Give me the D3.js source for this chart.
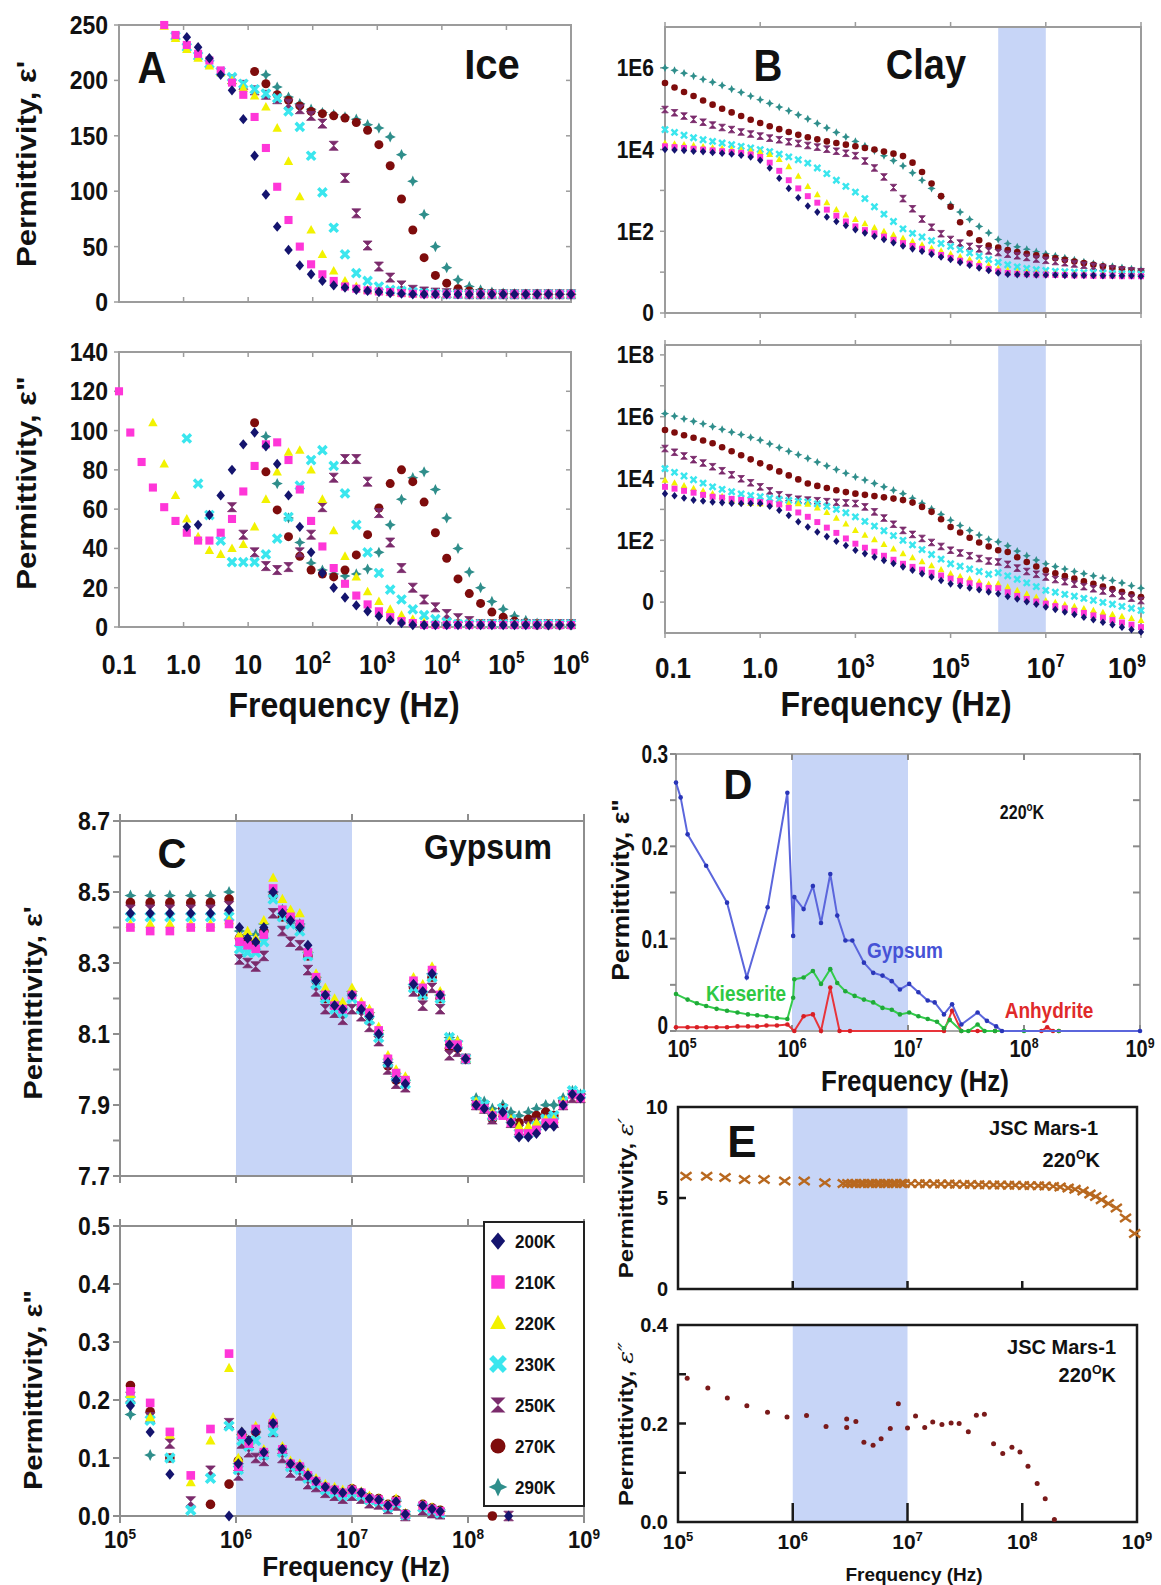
<!DOCTYPE html>
<html>
<head>
<meta charset="utf-8">
<script src="https://cdn.jsdelivr.net/npm/d3@7"></script>
<style>
body { margin: 0; background: #fff; }
svg { display: block; }
text { font-family: "Liberation Sans", Arial, sans-serif; }
</style>
</head>
<body>
<svg id="chart" width="1161" height="1585"></svg>
<script>
var _ = null;

// ---------- shared ----------
var temps = ["200K", "210K", "220K", "230K", "250K", "270K", "290K"];

// ---------- A: Ice (log10 of frequency in Hz) ----------
var iceFreqLog = [-1.0, -0.825, -0.65, -0.475, -0.3, -0.125, 0.05, 0.225, 0.4, 0.575, 0.75, 0.925, 1.1, 1.275, 1.45, 1.625, 1.8, 1.975, 2.15, 2.325, 2.5, 2.675, 2.85, 3.025, 3.2, 3.375, 3.55, 3.725, 3.9, 4.075, 4.25, 4.425, 4.6, 4.775, 4.95, 5.125, 5.3, 5.475, 5.65, 5.825, 6.0];
var iceTickValues = [0.1, 1, 10, 1e2, 1e3, 1e4, 1e5, 1e6];
var iceTickLabels = ["0.1", "1.0", "10", "10^{2}", "10^{3}", "10^{4}", "10^{5}", "10^{6}"];
var iceRealTicks = [0, 50, 100, 150, 200, 250];
var iceLossTicks = [0, 20, 40, 60, 80, 100, 120, 140];

var iceReal200 = [_,_,_,_,_,_,239,230,220,205,191,165,132,97,68,47,33,25,19,15,13,11,10,9,8,7.5,7,7,7,7,7,7,7,7,7,7,7,7,7,7,7];
var iceReal210 = [_,_,_,_,250,241,232,224,218,209,198,187,167,139,104,74,50,34,25,19,14,12,10.5,9.5,9,8,7.5,7,7,7,7,7,7,7,7,7,7,7,7,7,7];
var iceReal220 = [_,_,_,_,249,238,228,220,213,207,200,193,186,176,157,127,95,65,43,28,19,14,11,10,9,8,7.5,7,7,7,7,7,7,7,7,7,7,7,7,7,7];
var iceReal230 = [_,_,_,_,_,240,230,222,215,208,203,197,192,188,184,172,158,132,99,67,43,26,19,14,11,10,9,8,7.5,7,7,7,7,7,7,7,7,7,7,7,7];
var iceReal250 = [_,_,_,_,_,_,_,_,_,_,201,196,191,187,183,179,174,168,161,141,112,80,51,32,22,15,11,9.5,8.5,8,7.5,7,7,7,7,7,7,7,7,7,7];
var iceReal270 = [_,_,_,_,_,_,_,_,_,_,_,_,208,197,187,182,177,172,170,168,166,162,155,142,123,93,65,40,24,17,12,10,8.5,8,7.5,7,7,7,7,7,7];
var iceReal290 = [_,_,_,_,_,_,_,_,_,_,_,_,_,205,194,185,179,174,171,169,167,165,160,157,149,133,109,79,50,31,20,14,11,9,8,7.5,7,7,7,7,7];

var iceLoss200 = [_,_,_,_,_,_,51,52,57,67,80,93,99,92,83,67,51,38,27.5,20,15,11,8,5.5,3.5,2,1,1,1,1,1,1,1,1,1,1,1,1,1,1,1];
var iceLoss210 = [120,99,84,71,61,54,48,44,44,48,55,69,82,93,94,85,70,54,41,30,22,16,11.5,8,5,3,2,1,1,1,1,1,1,1,1,1,1,1,1,1,1];
var iceLoss220 = [_,_,_,104,83,67,55,46,39,37,40,42,51,65,79,89,90,80,65,49,36,25.5,18,13,9,6,4,2.5,1.5,1.5,1.5,1.5,1.5,1.5,1.5,1.5,1.5,1.5,1.5,1.5,1.5];
var iceLoss230 = [_,_,_,_,_,_,96,73,57,44,33,33,33,37,45,56,72,85,90,82,68,52,38,27.5,19,14,9,6,4,2.5,1.5,1.5,1.5,1.5,1.5,1.5,1.5,1.5,1.5,1.5,1.5];
var iceLoss250 = [_,_,_,_,_,_,_,_,_,_,61,47,38,31,29,30.5,38,47,61,76,85.5,85.5,74,58,43,30,20,14,10,6.6,4.5,3,1.5,1.5,1.5,1.5,1.5,1.5,1.5,1.5,1.5];
var iceLoss270 = [_,_,_,_,_,_,_,_,_,_,_,_,104,79,59.6,46,36,29,27,25.5,29,36.7,47,60.6,73,80,74,63.6,48,35,24.5,17,12,7.6,5,3,2,1,1,1,1];
var iceLoss290 = [_,_,_,_,_,_,_,_,_,_,_,_,_,97,73,55.5,43,32.6,29,27,26,27,29.5,38,52,65,76,79,70,55.5,40,28,20,13,9,5.6,3.4,2,1,1,1];

// ---------- B: Clay (log10 frequency, log10 permittivity) ----------
var clayFreqLog = [-1.0, -0.8, -0.6, -0.4, -0.2, 0.0, 0.2, 0.4, 0.6, 0.8, 1.0, 1.2, 1.4, 1.6, 1.8, 2.0, 2.2, 2.4, 2.6, 2.8, 3.0, 3.2, 3.4, 3.6, 3.8, 4.0, 4.2, 4.4, 4.6, 4.8, 5.0, 5.2, 5.4, 5.6, 5.8, 6.0, 6.2, 6.4, 6.6, 6.8, 7.0, 7.2, 7.4, 7.6, 7.8, 8.0, 8.2, 8.4, 8.6, 8.8, 9.0];
var clayTickValues = [0.1, 10, 1e3, 1e5, 1e7, 1e9];
var clayTickLabels = ["0.1", "1.0", "10^{3}", "10^{5}", "10^{7}", "10^{9}"];
var clayRealTicks = [1, 1e2, 1e4, 1e6];
var clayRealTickLabels = ["0", "1E2", "1E4", "1E6"];
var clayLossTicks = [1, 1e2, 1e4, 1e6, 1e8];
var clayLossTickLabels = ["0", "1E2", "1E4", "1E6", "1E8"];

var clayRealLog200 = [4.00,3.99,3.98,3.96,3.95,3.93,3.91,3.89,3.86,3.82,3.74,3.55,3.30,3.05,2.82,2.62,2.47,2.35,2.24,2.14,2.04,1.96,1.88,1.80,1.72,1.64,1.57,1.51,1.44,1.37,1.31,1.24,1.17,1.10,1.04,0.98,0.95,0.94,0.94,0.93,0.93,0.93,0.92,0.92,0.92,0.92,0.91,0.91,0.91,0.91,0.90];
var clayRealLog210 = [4.08,4.06,4.04,4.02,4.00,3.98,3.96,3.94,3.92,3.88,3.82,3.68,3.48,3.25,3.05,2.86,2.70,2.53,2.38,2.24,2.12,2.03,1.95,1.87,1.79,1.71,1.64,1.57,1.49,1.42,1.35,1.28,1.21,1.15,1.08,1.02,0.98,0.96,0.95,0.94,0.94,0.93,0.93,0.92,0.92,0.91,0.91,0.91,0.90,0.90,0.90];
var clayRealLog220 = [4.16,4.14,4.12,4.10,4.07,4.05,4.03,4.01,3.99,3.97,3.94,3.88,3.76,3.58,3.35,3.10,2.90,2.70,2.53,2.40,2.29,2.19,2.09,2.00,1.91,1.83,1.75,1.67,1.59,1.52,1.45,1.38,1.31,1.24,1.17,1.10,1.05,1.02,1.00,0.98,0.97,0.96,0.96,0.95,0.95,0.94,0.94,0.93,0.93,0.92,0.92];
var clayRealLog230 = [4.49,4.42,4.35,4.29,4.24,4.20,4.16,4.12,4.08,4.04,4.00,3.95,3.89,3.82,3.75,3.67,3.55,3.41,3.25,3.10,2.96,2.80,2.60,2.42,2.24,2.06,1.95,1.86,1.77,1.70,1.63,1.55,1.47,1.39,1.31,1.24,1.18,1.13,1.09,1.06,1.04,1.02,1.01,1.00,0.99,0.99,0.98,0.97,0.96,0.96,0.95];
var clayRealLog250 = [4.98,4.90,4.82,4.74,4.67,4.60,4.54,4.49,4.43,4.38,4.33,4.28,4.24,4.19,4.15,4.10,4.06,4.01,3.96,3.91,3.85,3.72,3.55,3.33,3.07,2.80,2.55,2.30,2.10,1.94,1.80,1.71,1.63,1.57,1.52,1.48,1.44,1.40,1.36,1.32,1.29,1.26,1.23,1.20,1.17,1.14,1.11,1.08,1.05,1.03,1.01];
var clayRealLog270 = [5.63,5.52,5.41,5.31,5.20,5.10,5.00,4.91,4.82,4.73,4.65,4.57,4.50,4.43,4.36,4.30,4.25,4.20,4.16,4.12,4.08,4.04,4.00,3.95,3.90,3.84,3.68,3.45,3.17,2.86,2.60,2.22,1.95,1.78,1.65,1.60,1.54,1.49,1.45,1.41,1.38,1.34,1.30,1.26,1.22,1.18,1.14,1.10,1.07,1.04,1.02];
var clayRealLog290 = [6.00,5.94,5.87,5.80,5.72,5.65,5.57,5.48,5.40,5.31,5.22,5.13,5.04,4.95,4.85,4.75,4.64,4.53,4.42,4.31,4.20,4.09,3.97,3.85,3.73,3.60,3.43,3.25,3.05,2.85,2.65,2.47,2.29,2.12,1.96,1.80,1.70,1.62,1.56,1.50,1.45,1.40,1.35,1.30,1.25,1.21,1.17,1.14,1.11,1.08,1.05];

var clayLossLog200 = [3.51,3.44,3.37,3.30,3.27,3.24,3.22,3.20,3.19,3.19,3.19,3.10,2.97,2.80,2.60,2.43,2.27,2.12,1.97,1.83,1.68,1.57,1.46,1.35,1.25,1.14,1.03,0.92,0.81,0.70,0.59,0.53,0.46,0.40,0.33,0.27,0.18,0.10,0.01,-0.07,-0.16,-0.24,-0.32,-0.40,-0.49,-0.57,-0.65,-0.73,-0.81,-0.89,-0.97];
var clayLossLog210 = [3.73,3.67,3.60,3.54,3.47,3.41,3.38,3.34,3.31,3.27,3.24,3.20,3.16,3.05,2.90,2.76,2.59,2.41,2.24,2.06,1.89,1.76,1.63,1.50,1.37,1.24,1.14,1.05,0.95,0.86,0.76,0.68,0.61,0.53,0.46,0.45,0.32,0.20,0.10,0.02,-0.05,-0.13,-0.20,-0.28,-0.35,-0.43,-0.50,-0.58,-0.66,-0.73,-0.81];
var clayLossLog220 = [3.95,3.86,3.77,3.68,3.60,3.51,3.42,3.30,3.23,3.20,3.19,3.19,3.19,3.19,3.19,3.17,3.05,2.90,2.72,2.53,2.32,2.17,2.02,1.87,1.72,1.57,1.44,1.31,1.18,1.05,0.92,0.83,0.75,0.66,0.58,0.60,0.49,0.38,0.27,0.16,0.05,-0.01,-0.08,-0.14,-0.21,-0.27,-0.33,-0.40,-0.46,-0.53,-0.59];
var clayLossLog230 = [4.32,4.20,4.08,3.96,3.85,3.73,3.65,3.57,3.50,3.45,3.41,3.36,3.32,3.29,3.26,3.24,3.18,3.10,3.00,2.89,2.76,2.61,2.46,2.31,2.15,2.00,1.85,1.70,1.54,1.39,1.24,1.16,1.07,0.99,0.90,0.95,0.85,0.74,0.62,0.50,0.38,0.32,0.25,0.19,0.12,0.06,-0.01,-0.07,-0.14,-0.20,-0.27];
var clayLossLog250 = [4.97,4.85,4.73,4.61,4.50,4.38,4.25,4.12,3.99,3.86,3.73,3.60,3.47,3.38,3.33,3.30,3.28,3.25,3.23,3.21,3.19,3.08,2.92,2.72,2.52,2.32,2.19,2.06,1.93,1.80,1.68,1.59,1.50,1.41,1.33,1.30,1.22,1.10,0.99,0.90,0.81,0.73,0.66,0.58,0.50,0.43,0.36,0.28,0.20,0.13,0.05];
var clayLossLog270 = [5.57,5.49,5.40,5.32,5.23,5.14,5.01,4.88,4.75,4.62,4.49,4.36,4.23,4.10,3.97,3.84,3.76,3.69,3.62,3.56,3.51,3.47,3.43,3.39,3.35,3.30,3.22,3.08,2.92,2.68,2.43,2.25,2.08,1.93,1.80,1.68,1.62,1.45,1.30,1.15,1.03,0.93,0.84,0.76,0.67,0.59,0.50,0.42,0.33,0.25,0.16];
var clayLossLog290 = [6.10,6.02,5.93,5.85,5.77,5.68,5.59,5.50,5.42,5.33,5.24,5.12,5.00,4.88,4.77,4.65,4.53,4.41,4.29,4.17,4.05,3.95,3.84,3.73,3.62,3.51,3.36,3.20,3.02,2.84,2.65,2.48,2.32,2.17,2.03,1.95,1.82,1.65,1.50,1.36,1.24,1.15,1.07,0.99,0.92,0.85,0.78,0.70,0.62,0.53,0.45];

// ---------- C: Gypsum ----------
var gypTickValues = [1e5, 1e6, 1e7, 1e8, 1e9];
var gypTickLabels = ["10^{5}", "10^{6}", "10^{7}", "10^{8}", "10^{9}"];
var gypRealTicks = [7.7, 7.9, 8.1, 8.3, 8.5, 8.7];
var gypRealMinor = [7.8, 8.0, 8.2, 8.4, 8.6];
var gypLossTicks = [0.0, 0.1, 0.2, 0.3, 0.4, 0.5];

var gypRealFreqLog = [5.09, 5.26, 5.43, 5.61, 5.78, 5.94, 6.03, 6.10, 6.17, 6.24, 6.32, 6.40, 6.47, 6.55, 6.62, 6.69, 6.77, 6.85, 6.92, 7.00, 7.08, 7.15, 7.23, 7.31, 7.38, 7.46, 7.53, 7.61, 7.69, 7.76, 7.84, 7.91, 7.98, 8.07, 8.14, 8.21, 8.30, 8.37, 8.44, 8.52, 8.59, 8.67, 8.74, 8.82, 8.90, 8.97];
var gypReal200 = [8.44,8.44,8.44,8.44,8.44,8.45,8.40,8.37,8.36,8.40,8.50,8.44,8.42,8.40,8.35,8.25,8.21,8.18,8.17,8.21,8.17,8.15,8.10,8.02,7.97,7.96,8.24,8.22,8.27,8.21,8.07,8.06,8.03,7.90,7.89,7.87,7.88,7.85,7.81,7.81,7.82,7.84,7.84,7.90,7.93,7.92];
var gypReal210 = [8.40,8.39,8.39,8.40,8.40,8.41,8.36,8.35,8.34,8.38,8.51,8.45,8.43,8.41,8.33,8.26,8.21,8.18,8.17,8.21,8.18,8.16,8.11,8.03,7.99,7.97,8.25,8.23,8.28,8.21,8.07,8.07,8.03,7.90,7.89,7.87,7.87,7.85,7.82,7.82,7.83,7.85,7.85,7.90,7.93,7.92];
var gypReal220 = [8.41,8.41,8.41,8.41,8.41,8.42,8.38,8.39,8.37,8.42,8.54,8.48,8.45,8.44,8.34,8.27,8.23,8.20,8.19,8.23,8.19,8.17,8.12,8.04,8.00,7.98,8.26,8.24,8.29,8.22,8.08,8.08,8.03,7.91,7.89,7.88,7.88,7.86,7.84,7.84,7.85,7.86,7.86,7.91,7.93,7.92];
var gypReal230 = [8.43,8.43,8.43,8.43,8.43,8.43,8.34,8.33,8.33,8.36,8.48,8.43,8.41,8.39,8.32,8.24,8.20,8.17,8.16,8.20,8.17,8.14,8.09,8.02,7.98,7.96,8.23,8.21,8.26,8.20,8.09,8.07,8.03,7.91,7.90,7.87,7.89,7.86,7.82,7.82,7.84,7.86,7.87,7.91,7.94,7.93];
var gypReal250 = [8.45,8.45,8.45,8.45,8.45,8.46,8.31,8.30,8.29,8.32,8.44,8.39,8.36,8.35,8.28,8.22,8.17,8.16,8.14,8.17,8.15,8.12,8.08,8.00,7.96,7.95,8.22,8.18,8.23,8.17,8.04,8.05,8.03,7.90,7.89,7.86,7.88,7.85,7.83,7.84,7.85,7.86,7.85,7.90,7.92,7.92];
var gypReal270 = [8.47,8.47,8.47,8.47,8.47,8.48,8.37,8.36,8.35,8.39,8.49,8.43,8.42,8.40,8.32,8.25,8.20,8.18,8.17,8.21,8.17,8.15,8.10,8.01,7.97,7.97,8.23,8.21,8.26,8.20,8.06,8.06,8.03,7.90,7.89,7.86,7.89,7.86,7.85,7.86,7.87,7.88,7.87,7.91,7.93,7.92];
var gypReal290 = [8.49,8.49,8.49,8.49,8.49,8.50,8.39,8.38,8.38,8.41,8.50,8.45,8.43,8.41,8.33,8.26,8.22,8.19,8.18,8.22,8.18,8.16,8.11,8.02,7.98,7.97,8.24,8.22,8.27,8.21,8.09,8.08,8.03,7.92,7.91,7.89,7.90,7.88,7.87,7.88,7.89,7.90,7.90,7.92,7.94,7.93];

var gypLossFreqLog = [5.09, 5.26, 5.43, 5.61, 5.78, 5.94, 6.02, 6.05, 6.11, 6.17, 6.24, 6.32, 6.40, 6.47, 6.55, 6.62, 6.69, 6.77, 6.85, 6.92, 7.00, 7.08, 7.15, 7.23, 7.31, 7.38, 7.46, 7.61, 7.69, 7.76, 8.21, 8.35];
var gypLoss200 = [0.19,0.145,0.072,_,_,0.0,0.09,0.145,0.13,0.145,0.11,0.16,0.115,0.09,0.085,0.07,0.06,0.05,0.045,0.04,0.045,0.04,0.03,0.028,0.018,0.025,0.003,0.018,0.012,0.008,_,0.0];
var gypLoss210 = [0.215,0.195,0.145,0.07,0.15,0.28,0.085,0.14,0.125,0.15,0.11,0.16,0.115,0.09,0.085,0.07,0.06,0.05,0.045,0.04,0.045,0.04,0.03,0.028,0.018,0.025,0.003,0.018,0.012,0.008,_,_];
var gypLoss220 = [0.21,0.17,0.14,0.058,0.13,0.255,0.10,0.145,0.13,0.155,0.115,0.17,0.12,0.095,0.09,0.075,0.065,0.055,0.05,0.045,0.048,0.042,0.035,0.03,0.02,0.03,0.005,0.02,0.015,0.01,_,_];
var gypLoss230 = [0.20,0.165,0.10,0.01,0.065,0.155,0.08,0.13,0.12,0.13,0.105,0.145,0.11,0.085,0.08,0.065,0.055,0.045,0.04,0.035,0.04,0.035,0.028,0.025,0.015,0.022,0.002,0.015,0.01,0.005,_,_];
var gypLoss250 = [0.205,0.17,0.125,0.025,0.078,0.16,0.07,0.125,0.11,0.10,0.095,0.145,0.10,0.075,0.07,0.055,0.05,0.04,0.035,0.03,0.035,0.03,0.022,0.02,0.012,0.018,0.0,0.01,0.005,0.003,_,0.0];
var gypLoss270 = [0.225,0.18,0.10,_,0.02,0.055,0.095,0.14,0.13,0.145,0.11,0.16,0.115,0.09,0.085,0.07,0.06,0.05,0.045,0.04,0.047,0.04,0.032,0.03,0.02,0.028,0.004,0.02,0.014,0.01,0.0,_];
var gypLoss290 = [0.175,0.105,_,_,_,_,0.09,0.14,0.125,0.145,0.11,0.155,0.115,0.09,0.085,0.07,0.06,0.05,0.045,0.04,0.045,0.04,0.03,0.028,0.018,0.025,0.003,0.018,0.012,0.008,_,_];

// ---------- D: loss at 220 K ----------
var dLossTicks = [0, 0.1, 0.2, 0.3];
var dLossMinor = [0.05, 0.15, 0.25];
var gypsumFreqLog = [5.00, 5.04, 5.10, 5.26, 5.44, 5.61, 5.79, 5.96, 6.01, 6.02, 6.10, 6.18, 6.25, 6.33, 6.39, 6.46, 6.52, 6.62, 6.70, 6.78, 6.86, 6.93, 7.01, 7.09, 7.17, 7.23, 7.31, 7.38, 7.46, 7.60, 7.68, 7.76, 7.81, 9.00];
var gypsumLoss = [0.269, 0.253, 0.213, 0.179, 0.139, 0.058, 0.134, 0.258, 0.103, 0.145, 0.132, 0.157, 0.117, 0.170, 0.125, 0.098, 0.098, 0.074, 0.063, 0.060, 0.054, 0.045, 0.051, 0.042, 0.033, 0.031, 0.018, 0.029, 0.007, 0.020, 0.011, 0.005, 0.0, 0.0];
var kieseriteFreqLog = [5.00, 5.10, 5.18, 5.26, 5.35, 5.44, 5.53, 5.62, 5.70, 5.78, 5.87, 5.96, 6.01, 6.02, 6.10, 6.18, 6.25, 6.33, 6.39, 6.46, 6.54, 6.62, 6.70, 6.78, 6.86, 6.93, 7.01, 7.09, 7.17, 7.25, 7.31, 7.36, 7.46, 7.52, 7.60, 7.66, 7.75, 8.00, 8.30];
var kieseriteLoss = [0.040, 0.034, 0.030, 0.027, 0.024, 0.022, 0.020, 0.018, 0.017, 0.016, 0.014, 0.013, 0.036, 0.056, 0.058, 0.065, 0.051, 0.067, 0.052, 0.043, 0.038, 0.034, 0.031, 0.025, 0.023, 0.018, 0.020, 0.016, 0.013, 0.010, 0.003, 0.012, 0.0, 0.0, 0.007, 0.0, 0.0, 0.0, 0.0];
var anhydriteFreqLog = [5.00, 5.10, 5.18, 5.26, 5.35, 5.44, 5.53, 5.62, 5.70, 5.78, 5.87, 5.96, 6.02, 6.10, 6.18, 6.25, 6.33, 6.41, 6.50, 7.31, 7.38, 7.46, 7.60, 7.75, 8.15, 8.20, 8.25, 8.30];
var anhydriteLoss = [0.004, 0.004, 0.004, 0.004, 0.004, 0.004, 0.005, 0.005, 0.005, 0.006, 0.006, 0.007, 0.0, 0.016, 0.018, 0.0, 0.047, 0.0, 0.0, 0.0, 0.022, 0.0, 0.0, 0.0, 0.0, 0.004, 0.0, 0.0];

// ---------- E: JSC Mars-1 at 220 K ----------
var marsRealTicks = [0, 5, 10];
var marsLossTicks = [0.0, 0.2, 0.4];
var marsLossMinor = [0.1, 0.3];
var marsRealFreqLog = [5.07, 5.25, 5.41, 5.58, 5.75, 5.93, 6.10, 6.28, 6.44, 6.48, 6.52, 6.55, 6.59, 6.62, 6.66, 6.69, 6.73, 6.76, 6.80, 6.83, 6.87, 6.90, 6.94, 6.97, 7.03, 7.10, 7.16, 7.23, 7.29, 7.36, 7.42, 7.49, 7.55, 7.62, 7.68, 7.75, 7.81, 7.88, 7.94, 8.01, 8.07, 8.14, 8.20, 8.27, 8.33, 8.40, 8.46, 8.53, 8.59, 8.64, 8.69, 8.75, 8.82, 8.90, 8.98];
var marsReal = [6.20, 6.20, 6.13, 6.02, 6.02, 5.93, 5.93, 5.84, 5.80, 5.80, 5.80, 5.80, 5.80, 5.80, 5.80, 5.80, 5.80, 5.80, 5.80, 5.80, 5.80, 5.80, 5.80, 5.80, 5.79, 5.79, 5.78, 5.78, 5.77, 5.77, 5.76, 5.75, 5.74, 5.73, 5.72, 5.71, 5.71, 5.70, 5.70, 5.69, 5.68, 5.67, 5.66, 5.64, 5.60, 5.55, 5.48, 5.38, 5.22, 5.08, 4.90, 4.70, 4.45, 3.90, 3.05];
var marsLossFreqLog = [5.08, 5.26, 5.43, 5.60, 5.78, 5.95, 6.12, 6.29, 6.47, 6.47, 6.55, 6.62, 6.70, 6.77, 6.85, 6.92, 7.00, 7.07, 7.15, 7.22, 7.30, 7.38, 7.45, 7.53, 7.60, 7.67, 7.75, 7.83, 7.91, 7.98, 8.05, 8.13, 8.20, 8.28];
var marsLoss = [0.292, 0.272, 0.252, 0.236, 0.223, 0.213, 0.216, 0.194, 0.209, 0.192, 0.204, 0.162, 0.156, 0.169, 0.190, 0.240, 0.191, 0.215, 0.192, 0.203, 0.198, 0.201, 0.200, 0.183, 0.217, 0.219, 0.159, 0.139, 0.152, 0.142, 0.113, 0.078, 0.047, 0.005];

// ---------- drawing ----------
var svg = d3.select("#chart");
var SHADE = "#c7d5f7";
var GRAY = "#9c9c9c";
var tempColors = ["#14146e", "#ff36d8", "#f2f200", "#3ae6ee", "#7b2b6c", "#7e0c0c", "#2f8e8b"];
var tempKinds = [0, 1, 2, 3, 4, 5, 6];

function label(str, x, y, size, o) {
    o = o || {};
    var tr = "translate(" + x + "," + y + ")";
    if (o.sy) tr += " scale(1," + o.sy + ")";
    if (o.rot) tr += " rotate(" + o.rot + ")";
    var t = svg.append("text")
        .attr("transform", tr)
        .attr("text-anchor", o.anchor || "middle")
        .attr("dy", "0.35em")
        .attr("font-size", size)
        .attr("font-weight", o.weight || "bold")
        .attr("fill", o.color || "#111");
    var parts = str.split(/(\^\{[^}]*\}|_\{[^}]*\})/);
    var raised = false;
    parts.forEach(function(p){
        if (!p) return;
        var s;
        if (p.indexOf("^{") === 0) {
            t.append("tspan").attr("font-size", size * 0.62).attr("dy", -size * 0.4).text(p.slice(2, -1));
            raised = true;
            return;
        }
        if (p.indexOf("_{") === 0) {
            s = t.append("tspan").attr("font-style", "italic").attr("font-family", "'DejaVu Serif', serif").attr("font-weight", "normal").text(p.slice(2, -1));
        } else {
            s = t.append("tspan").text(p);
        }
        if (raised) { s.attr("dy", size * 0.4); raised = false; }
    });
    return t;
}

function box(x0, y0, x1, y1, color, w) {
    svg.append("rect")
        .attr("x", x0).attr("y", y0)
        .attr("width", x1 - x0).attr("height", y1 - y0)
        .attr("fill", "none")
        .attr("stroke", color)
        .attr("stroke-width", w);
}

function shade(x0, x1, y0, y1) {
    svg.append("rect")
        .attr("x", x0).attr("y", y0)
        .attr("width", x1 - x0).attr("height", y1 - y0)
        .attr("fill", SHADE);
}

// vertical tick marks along a horizontal edge
function xTicks(scale, vals, y, len, color, w) {
    vals.forEach(function(v){
        svg.append("line")
            .attr("x1", scale(v)).attr("x2", scale(v))
            .attr("y1", y).attr("y2", y + len)
            .attr("stroke", color).attr("stroke-width", w);
    });
}

// horizontal tick marks along a vertical edge
function yTicks(scale, vals, x, len, color, w) {
    vals.forEach(function(v){
        svg.append("line")
            .attr("x1", x).attr("x2", x + len)
            .attr("y1", scale(v)).attr("y2", scale(v))
            .attr("stroke", color).attr("stroke-width", w);
    });
}

function markerPath(kind, r) {
    var a;
    if (kind == 0) return "M0," + (-r * 1.15) + "L" + (r * 0.95) + ",0L0," + (r * 1.15) + "L" + (-r * 0.95) + ",0Z";
    if (kind == 1) { a = r * 0.9; return "M" + (-a) + "," + (-a) + "H" + a + "V" + a + "H" + (-a) + "Z"; }
    if (kind == 2) return "M0," + (-r * 1.1) + "L" + (r * 1.05) + "," + (r * 0.8) + "L" + (-r * 1.05) + "," + (r * 0.8) + "Z";
    if (kind == 3) {
        a = r * 0.38; var b = r * 1.3;
        return "M" + (-a) + "," + (-b) + "H" + a + "V" + (-a) + "H" + b + "V" + a + "H" + a + "V" + b + "H" + (-a) + "V" + a + "H" + (-b) + "V" + (-a) + "H" + (-a) + "Z";
    }
    if (kind == 4) return "M" + (-r) + "," + (-r) + "L" + r + "," + (-r) + "L" + (-r) + "," + r + "L" + r + "," + r + "Z";
    if (kind == 5) return "M" + (-r) + ",0A" + r + "," + r + " 0 1,0 " + r + ",0A" + r + "," + r + " 0 1,0 " + (-r) + ",0Z";
    a = r * 0.4; var s = r * 1.25;
    return "M0," + (-s) + "L" + a + "," + (-a) + "L" + s + ",0L" + a + "," + a + "L0," + s + "L" + (-a) + "," + a + "L" + (-s) + ",0L" + (-a) + "," + (-a) + "Z";
}

function scatter(freqLog, vals, xs, ys, kind, color, r, logY) {
    var pts = [];
    freqLog.forEach(function(f, i){
        if (vals[i] === null || vals[i] === undefined) return;
        pts.push([xs(Math.pow(10, f)), ys(logY ? Math.pow(10, vals[i]) : vals[i])]);
    });
    svg.append("g").selectAll("path").data(pts).join("path")
        .attr("d", markerPath(kind, r))
        .attr("transform", function(d){ return "translate(" + d[0] + "," + d[1] + ")" + (kind == 3 ? " rotate(45)" : ""); })
        .attr("fill", color)
        .attr("stroke", color)
        .attr("stroke-width", kind == 4 ? 0.8 : 0);
}

// ================= Panel A: Ice =================
var xA = d3.scaleLog().domain([0.1, 1e6]).range([119, 571]);
var yA1 = d3.scaleLinear().domain([0, 250]).range([302, 25]);
var yA2 = d3.scaleLinear().domain([0, 140]).range([627, 352]);

var iceReal = [iceReal200, iceReal210, iceReal220, iceReal230, iceReal250, iceReal270, iceReal290];
var iceLoss = [iceLoss200, iceLoss210, iceLoss220, iceLoss230, iceLoss250, iceLoss270, iceLoss290];

[[yA1, iceRealTicks, iceReal], [yA2, iceLossTicks, iceLoss]].forEach(function(p){
    var ys = p[0];
    box(119, ys.range()[1], 571, ys.range()[0], GRAY, 2);
    xTicks(xA, iceTickValues, ys.range()[1], 5, GRAY, 1.5);
    xTicks(xA, iceTickValues, ys.range()[0], -5, GRAY, 1.5);
    yTicks(ys, p[1], 119, -5, GRAY, 1.5);
    yTicks(ys, p[1], 571, -5, GRAY, 1.5);
    p[1].forEach(function(v){ label(String(v), 108, ys(v), 23, {anchor: "end", sy: 1.12}); });
    for (var k = 6; k >= 0; k--) scatter(iceFreqLog, p[2][k], xA, ys, tempKinds[k], tempColors[k], 4.5, false);
});
iceTickValues.forEach(function(v, i){ label(iceTickLabels[i], xA(v), 664, 25, {sy: 1.12}); });
label("Frequency (Hz)", 344, 704, 32, {sy: 1.12});
label("Permittivity,  \u03b5'", 27, 164, 27, {rot: -90, sy: 1.15});
label("Permittivity,  \u03b5\"", 27, 483, 27, {rot: -90, sy: 1.15});
label("A", 152, 68, 40, {sy: 1.1});
label("Ice", 492, 64, 40, {sy: 1.05});

// ================= Panel B: Clay =================
var xB = d3.scaleLog().domain([0.1, 1e9]).range([665, 1141]);
var yB1 = d3.scaleLog().domain([1, 1e7]).range([313, 27]);
var yB2 = d3.scaleLog().domain([0.1, Math.pow(10, 8.32)]).range([633, 345]);

var clayReal = [clayRealLog200, clayRealLog210, clayRealLog220, clayRealLog230, clayRealLog250, clayRealLog270, clayRealLog290];
var clayLoss = [clayLossLog200, clayLossLog210, clayLossLog220, clayLossLog230, clayLossLog250, clayLossLog270, clayLossLog290];

[[yB1, clayRealTicks, clayRealTickLabels, clayReal, [1, 10, 1e2, 1e3, 1e4, 1e5, 1e6]],
 [yB2, clayLossTicks, clayLossTickLabels, clayLoss, [1, 10, 1e2, 1e3, 1e4, 1e5, 1e6, 1e7, 1e8]]].forEach(function(p){
    var ys = p[0];
    shade(xB(1e6), xB(1e7), ys.range()[1], ys.range()[0]);
    box(665, ys.range()[1], 1141, ys.range()[0], GRAY, 2);
    xTicks(xB, clayTickValues, ys.range()[1], -5, GRAY, 1.5);
    xTicks(xB, clayTickValues, ys.range()[0], 5, GRAY, 1.5);
    yTicks(ys, p[4], 665, -5, GRAY, 1.5);
    p[1].forEach(function(v, i){ label(p[2][i], 654, ys(v), 21, {anchor: "end", sy: 1.12}); });
    for (var k = 6; k >= 0; k--) scatter(clayFreqLog, p[3][k], xB, ys, tempKinds[k], tempColors[k], 3.3, true);
});
clayTickValues.forEach(function(v, i){ label(clayTickLabels[i], xB(v) + (i == 0 ? 8 : (i == 5 ? -14 : 0)), 668, 26, {sy: 1.12}); });
label("Frequency (Hz)", 896, 703, 32, {sy: 1.12});
label("B", 768, 66, 40, {sy: 1.1});
label("Clay", 926, 64, 38, {sy: 1.1});

// ================= Panel C: Gypsum =================
var xC = d3.scaleLog().domain([1e5, 1e9]).range([120, 584]);
var yC1 = d3.scaleLinear().domain([7.7, 8.7]).range([1176, 821]);
var yC2 = d3.scaleLinear().domain([0, 0.5]).range([1516, 1226]);

var gypReal = [gypReal200, gypReal210, gypReal220, gypReal230, gypReal250, gypReal270, gypReal290];
var gypLoss = [gypLoss200, gypLoss210, gypLoss220, gypLoss230, gypLoss250, gypLoss270, gypLoss290];

[[yC1, gypRealTicks, gypRealMinor, gypRealFreqLog, gypReal],
 [yC2, gypLossTicks, [], gypLossFreqLog, gypLoss]].forEach(function(p){
    var ys = p[0];
    shade(xC(1e6), xC(1e7), ys.range()[1], ys.range()[0]);
    box(120, ys.range()[1], 584, ys.range()[0], "#8e8e8e", 2);
    xTicks(xC, gypTickValues, ys.range()[1], -7, "#8e8e8e", 2);
    xTicks(xC, gypTickValues, ys.range()[0], 7, "#8e8e8e", 2);
    yTicks(ys, p[1].concat(p[2]), 120, -7, "#8e8e8e", 2);
    p[1].forEach(function(v){ label(v.toFixed(1), 110, ys(v), 23, {anchor: "end", sy: 1.12}); });
    for (var k = 6; k >= 0; k--) scatter(p[3], p[4][k], xC, ys, tempKinds[k], tempColors[k], 4.8, false);
});
gypTickValues.forEach(function(v, i){ label(gypTickLabels[i], xC(v), 1540, 22, {sy: 1.1}); });
label("Frequency (Hz)", 356, 1566, 26, {sy: 1.05});
label("Permittivity,  \u03b5'", 33, 1003, 26, {rot: -90, sy: 1.12});
label("Permittivity,  \u03b5\"", 33, 1390, 26, {rot: -90, sy: 1.12});
label("C", 172, 853, 40, {sy: 1.05});
label("Gypsum", 488, 847, 32, {sy: 1.1});

// legend
svg.append("rect").attr("x", 484).attr("y", 1222).attr("width", 100).attr("height", 284)
    .attr("fill", "#fff").attr("stroke", "#222").attr("stroke-width", 2);
temps.forEach(function(t, i){
    var y = 1241 + i * 41;
    svg.append("path").attr("d", markerPath(tempKinds[i], 7.5))
        .attr("transform", "translate(498," + y + ")" + (tempKinds[i] == 3 ? " rotate(45)" : ""))
        .attr("fill", tempColors[i]);
    label(t, 515, y, 17, {anchor: "start", sy: 1.1});
});

// ================= Panel D: 220 K loss comparison =================
var xD = d3.scaleLog().domain([1e5, 1e9]).range([676, 1140]);
var yD = d3.scaleLinear().domain([0, 0.3]).range([1031, 754]);
shade(xD(1e6), xD(1e7), 754, 1031);
box(676, 754, 1140, 1031, "#a8a8a8", 2);
xTicks(xD, gypTickValues, 754, 6, "#8a8a8a", 2);
xTicks(xD, gypTickValues, 1031, -6, "#8a8a8a", 2);
yTicks(yD, dLossTicks.concat(dLossMinor), 676, -6, "#8a8a8a", 2);
yTicks(yD, dLossTicks.concat(dLossMinor), 1140, -7, "#8a8a8a", 2);
dLossTicks.forEach(function(v){ label(v === 0 ? "0" : String(v), 668, yD(v) - (v === 0 ? 6 : 0), 19, {anchor: "end", sy: 1.35}); });
gypTickValues.forEach(function(v, i){ label(gypTickLabels[i], xD(v) + (i == 0 ? 6 : 0), 1049, 20, {sy: 1.15}); });
label("Frequency (Hz)", 915, 1081, 26, {sy: 1.1});
label("Permittivity,  \u03b5\"", 621, 890, 24, {rot: -90, sy: 1.1});

var dLine = d3.line().x(function(d){ return xD(Math.pow(10, d[0])); }).y(function(d){ return yD(d[1]); });
[[anhydriteFreqLog, anhydriteLoss, "#e8343a", "#d81e24"],
 [kieseriteFreqLog, kieseriteLoss, "#34cc4c", "#1faa38"],
 [gypsumFreqLog, gypsumLoss, "#5b66dc", "#2a36b8"]].forEach(function(s){
    var pts = s[0].map(function(f, i){ return [f, s[1][i]]; });
    svg.append("path").attr("d", dLine(pts)).attr("fill", "none").attr("stroke", s[2]).attr("stroke-width", 2);
    svg.append("g").selectAll("circle").data(pts).join("circle")
        .attr("cx", function(d){ return xD(Math.pow(10, d[0])); })
        .attr("cy", function(d){ return yD(d[1]); })
        .attr("r", 2.3).attr("fill", s[3]);
});
label("Gypsum", 905, 950, 19, {color: "#4652d6", sy: 1.2});
label("Kieserite", 746, 993, 19, {color: "#2ec844", sy: 1.2});
label("Anhydrite", 1049, 1010, 19, {color: "#e02a2a", sy: 1.2});
label("D", 738, 784, 40, {sy: 1.05});
label("220^{o}K", 1022, 812, 16, {sy: 1.3});

// ================= Panel E: JSC Mars-1 =================
var xE = d3.scaleLog().domain([1e5, 1e9]).range([678, 1137]);
var yE1 = d3.scaleLinear().domain([0, 10]).range([1289, 1107]);
var yE2 = d3.scaleLinear().domain([0, 0.4]).range([1522, 1325]);

shade(xE(1e6), xE(1e7), 1107, 1289);
shade(xE(1e6), xE(1e7), 1325, 1522);
box(678, 1107, 1137, 1289, "#1a1a1a", 2.5);
box(678, 1325, 1137, 1522, "#1a1a1a", 2.5);
xTicks(xE, [1e6, 1e7, 1e8], 1289, -8, "#1a1a1a", 2.5);
xTicks(xE, [1e6, 1e7, 1e8], 1522, -19, "#1a1a1a", 2.5);
yTicks(yE1, [5], 678, 8, "#1a1a1a", 2.5);
yTicks(yE2, marsLossMinor.concat([0.2]), 678, 8, "#1a1a1a", 2.5);
marsRealTicks.forEach(function(v){ label(String(v), 668, yE1(v), 20, {anchor: "end"}); });
marsLossTicks.forEach(function(v){ label(v.toFixed(1), 668, yE2(v), 20, {anchor: "end"}); });
gypTickValues.forEach(function(v, i){ label(gypTickLabels[i], xE(v), 1542, 21); });
label("Frequency (Hz)", 914, 1574, 19);
label("Permittivity, _{\u03b5\u2032}", 626, 1198, 20, {rot: -90, sy: 1.2});
label("Permittivity, _{\u03b5\u2033}", 626, 1424, 20, {rot: -90, sy: 1.2});

var realPts = marsRealFreqLog.map(function(f, i){ return [xE(Math.pow(10, f)), yE1(marsReal[i])]; });
svg.append("g").selectAll("path").data(realPts).join("path")
    .attr("d", "M-5.5,-4L5.5,4M5.5,-4L-5.5,4")
    .attr("transform", function(d){ return "translate(" + d[0] + "," + d[1] + ")"; })
    .attr("stroke", "#b8681f").attr("stroke-width", 2.4).attr("fill", "none");
var lossPts = marsLossFreqLog.map(function(f, i){ return [xE(Math.pow(10, f)), yE2(marsLoss[i])]; });
svg.append("g").selectAll("circle").data(lossPts).join("circle")
    .attr("cx", function(d){ return d[0]; }).attr("cy", function(d){ return d[1]; })
    .attr("r", 2.5).attr("fill", "#7a1a1a");

label("E", 742, 1142, 44);
label("JSC Mars-1", 1098, 1128, 20, {anchor: "end"});
label("220^{O}K", 1100, 1160, 20, {anchor: "end"});
label("JSC Mars-1", 1116, 1347, 20, {anchor: "end"});
label("220^{O}K", 1116, 1375, 20, {anchor: "end"});
</script>
</body>
</html>
